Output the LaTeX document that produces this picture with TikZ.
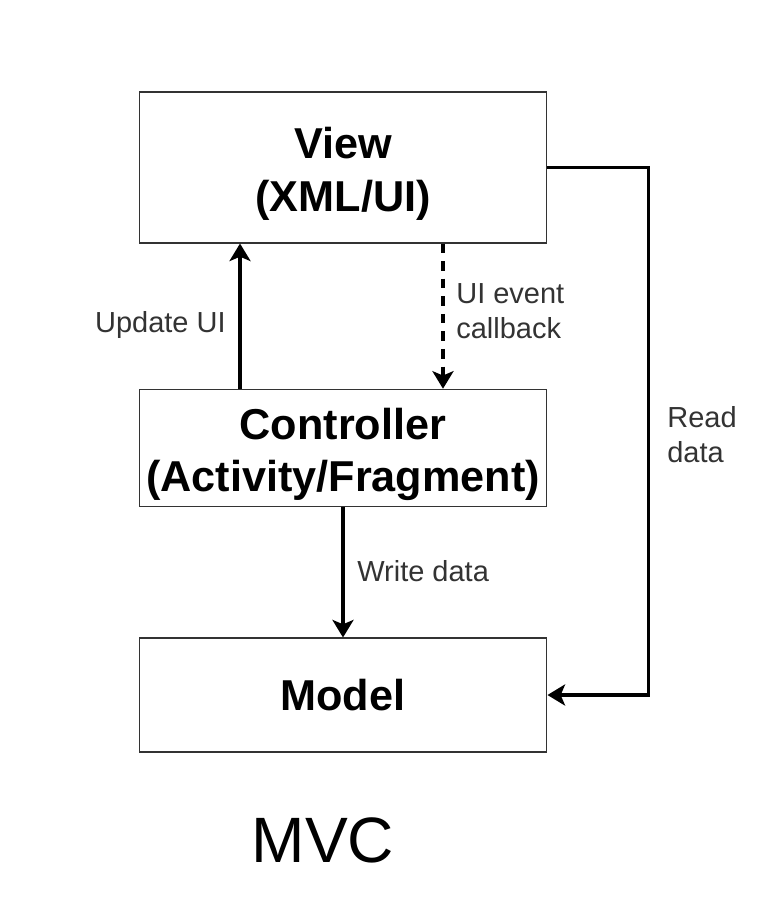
\documentclass[tikz,border=0pt]{standalone}
\usepackage{fontspec}
\setmainfont{Liberation Sans}
\usetikzlibrary{arrows.meta}

\newcommand{\toppad}{\rule{0pt}{25pt}}

\begin{document}
\begin{tikzpicture}[
    x=0.02cm, y=-0.02cm,
    box/.style={draw=black!80, line width=0.6pt, minimum width=8.16cm, inner xsep=1pt,
        align=center, font=\bfseries\fontsize{24.6}{30}\selectfont},
    lbl/.style={text=black!80, align=left, inner sep=0pt,
        font=\fontsize{16.5}{20}\selectfont},
    flow/.style={line width=2pt, -{Stealth[width=12pt, length=10pt, inset=2.5pt]}},
]
    \useasboundingbox (0,0) rectangle (770,914);

    \node (view) [box, minimum height=3.02cm] at (343,167.5) {\toppad View\\(XML/UI)};
    \node (ctrl) [box, minimum height=2.32cm] at (343,448) {\toppad Controller\\(Activity/Fragment)};
    \node (model) [box, minimum height=2.28cm] at (343,695) {Model};

    % arrows between the boxes
    \draw [flow] ([xshift=-2.06cm]ctrl.north) -- ([xshift=-2.06cm]view.south);
    \draw [flow, dash pattern=on 5.5pt off 4.5pt] ([xshift=2cm]view.south) -- ([xshift=2cm]ctrl.north);
    \draw [flow] (ctrl.south) -- (model.north);
    \draw [flow] (view.east) -- ++(101,0) |- (model.east);

    \node (upd) [lbl, anchor=east] at (226,325) {Update UI};
    \node (evt) [lbl, anchor=west] at (456,311) {UI event\\callback};
    \node (wrt) [lbl, anchor=west] at (357,571) {Write data};
    \node (rd) [lbl, anchor=west] at (667,435) {Read\\data};

    \node (title) [font=\fontsize{36.5}{40}\selectfont] at (323,840) {MVC};
\end{tikzpicture}
\end{document}
